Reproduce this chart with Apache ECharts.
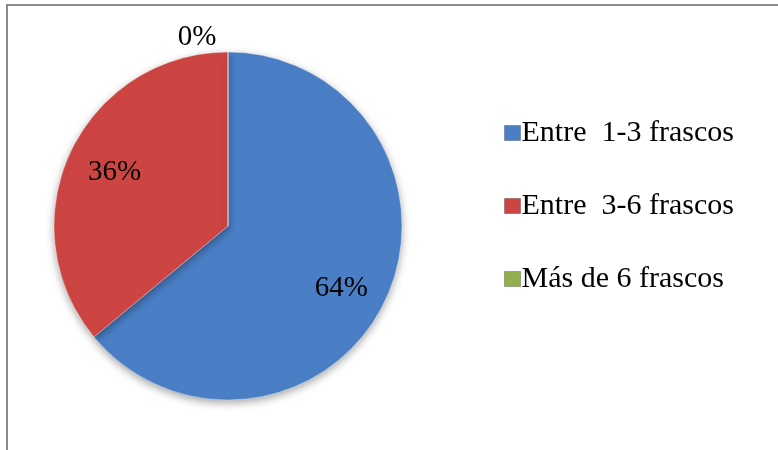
<!DOCTYPE html>
<html><head><meta charset="utf-8">
<script src="https://cdn.jsdelivr.net/npm/echarts@6/dist/echarts.min.js"></script>
<style>
html,body{margin:0;padding:0;background:#fff;overflow:hidden}
#frame{position:absolute;left:6px;top:4px;width:800px;height:500px;border-left:2px solid #8a8a8a;border-top:2px solid #8a8a8a;box-sizing:border-box}
#c{position:absolute;left:0;top:0;width:778px;height:450px}
</style></head>
<body>
<div id="frame"></div>
<div id="c"></div>
<script>
const categories = ['Entre  1-3 frascos', 'Entre  3-6 frascos', 'Más de 6 frascos'];
const values = [64, 36, 0];
const colors = ['#4a7fc6', '#cd4542', '#8fb04a'];

const chart = echarts.init(document.getElementById('c'), null, {renderer: 'canvas'});
const center = [228, 226];
const radius = 174;
const total = values.reduce((a, b) => a + b, 0);
function midAngle(i) {
  let s = 0;
  for (let k = 0; k < i; k++) s += values[k];
  return ((s + values[i] / 2) / total) * 2 * Math.PI;
}
chart.setOption({
  animation: false,
  legend: {
    orient: 'vertical', left: 499, top: 113,
    icon: 'rect', itemWidth: 16, itemHeight: 15, itemGap: 43,
    textStyle: {fontFamily: 'Liberation Serif', fontSize: 30, color: '#000', lineHeight: 30, padding: [0, 0, 0, -4]},
    data: categories.map((n, i) => ({name: n, itemStyle: {color: colors[i], borderColor: 'rgba(0,0,0,0.25)', borderWidth: 1}}))
  },
  series: [{
    type: 'pie',
    center: center,
    radius: radius,
    startAngle: 90,
    clockwise: true,
    data: categories.map((n, i) => ({name: n, value: values[i], itemStyle: {color: colors[i]}})),
    itemStyle: {borderColor: 'rgba(255,255,255,0.35)', borderWidth: 1, shadowBlur: 8, shadowColor: 'rgba(0,0,0,0.35)', shadowOffsetY: 3},
    label: {show: true, position: 'inside', formatter: '{c}%', fontFamily: 'Liberation Serif', fontSize: 29, color: '#000'},
    labelLine: {show: false},
    emphasis: {disabled: true},
    labelLayout: function (p) {
      const i = p.dataIndex;
      const a = midAngle(i);
      if (values[i] === 0) {
        return {x: center[0] + Math.sin(a) * radius - 31, y: center[1] - Math.cos(a) * (radius + 15), align: 'center', verticalAlign: 'middle'};
      }
      const f = 0.72;
      const dy = i === 0 ? 9 : 0;
      return {x: center[0] + Math.sin(a) * radius * f, y: center[1] - Math.cos(a) * radius * f + dy, align: 'center', verticalAlign: 'middle'};
    }
  }]
});
</script>
</body></html>
